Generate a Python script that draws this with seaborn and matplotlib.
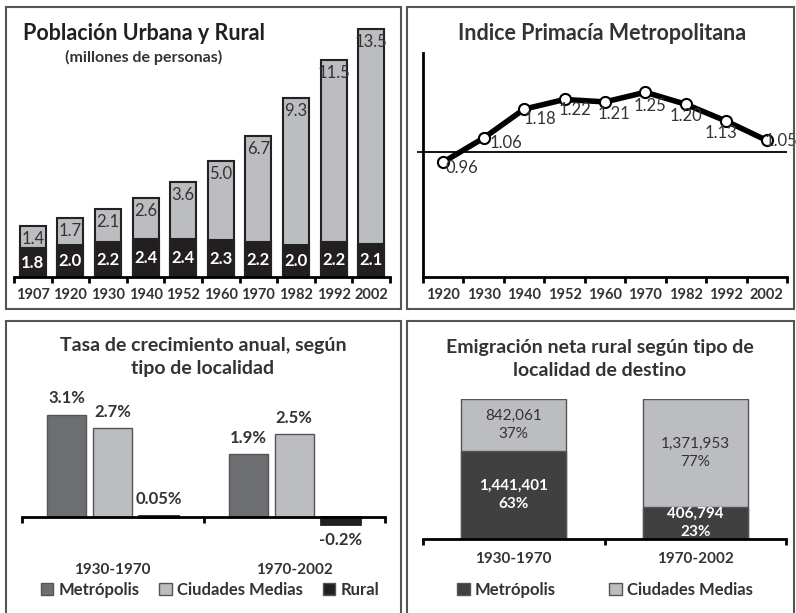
import numpy as np
import pandas as pd
import matplotlib
matplotlib.use("Agg")
import matplotlib.pyplot as plt
from matplotlib.patches import Rectangle, Patch
import seaborn as sns

# data
anios_pob = ["1907", "1920", "1930", "1940", "1952", "1960", "1970", "1982", "1992", "2002"]
urbana = [1.4, 1.7, 2.1, 2.6, 3.6, 5.0, 6.7, 9.3, 11.5, 13.5]
rural = [1.8, 2.0, 2.2, 2.4, 2.4, 2.3, 2.2, 2.0, 2.2, 2.1]

anios_prim = ["1920", "1930", "1940", "1952", "1960", "1970", "1982", "1992", "2002"]
primacia = [0.96, 1.06, 1.18, 1.22, 1.21, 1.25, 1.20, 1.13, 1.05]

periodos = ["1930-1970", "1970-2002"]
tipos = ["Metrópolis", "Ciudades Medias", "Rural"]
tasa_metro = [3.1, 1.9]
tasa_ciudades = [2.7, 2.5]
tasa_rural = [0.05, -0.2]
tasa_labels = [["3.1%", "1.9%"], ["2.7%", "2.5%"], ["0.05%", "-0.2%"]]

emig_metro = [1441401, 406794]
emig_ciudades = [842061, 1371953]

# colours
LIGHT = "#bcbdc0"
BLACK = "#231f20"
MID = "#6d6e71"
DARK = "#404040"
TXT = "#333333"

sns.set_style("white")
plt.rcParams["font.family"] = ["Lato", "DejaVu Sans"]

W, H = 796, 613
fig = plt.figure(figsize=(W / 100, H / 100), dpi=100)


def box(x0, y0, x1, y1):
    return fig.add_axes([x0 / W, 1 - y1 / H, (x1 - x0) / W, (y1 - y0) / H])


def ftext(x, y, s, **kw):
    fig.text(x / W, 1 - y / H, s, **kw)


def frame(x0, y0, x1, y1):
    fig.add_artist(Rectangle((x0 / W, 1 - y1 / H), (x1 - x0) / W, (y1 - y0) / H,
                             transform=fig.transFigure, fill=False,
                             ec="#555555", lw=1.5))


def cat_axis(ax, n, labels=None, size=10.5):
    ax.set_xlim(-0.5, n - 0.5)
    ax.set_xticks(np.arange(n + 1) - 0.5)
    ax.set_xticklabels([])
    ax.tick_params(axis="x", which="major", direction="out", length=4,
                   width=2, color="black", bottom=True)
    if labels is not None:
        ax.set_xticks(np.arange(n), minor=True)
        ax.set_xticklabels(labels, minor=True, fontsize=size,
                           fontweight="bold", color=TXT)
        ax.tick_params(axis="x", which="minor", length=0, pad=8)


frame(6, 7, 401, 309)
frame(407, 7, 794, 309)
frame(6, 321, 401, 625)
frame(407, 321, 794, 625)

# ---- Poblacion urbana y rural
ax1 = box(14, 23, 390, 277)
total = [u + r for u, r in zip(urbana, rural)]
sns.barplot(x=anios_pob, y=total, color=LIGHT, edgecolor="#222222",
            linewidth=1.5, width=0.69, saturation=1, ax=ax1)
sns.barplot(x=anios_pob, y=rural, color=BLACK, edgecolor="#222222",
            linewidth=1.5, width=0.69, saturation=1, ax=ax1)
ax1.set_ylim(0, 16)
ax1.set_yticks([])
ax1.set_xlabel("")
ax1.set_ylabel("")
for s in ["top", "right", "left"]:
    ax1.spines[s].set_visible(False)
ax1.spines["bottom"].set_linewidth(2)
ax1.spines["bottom"].set_color("black")
cat_axis(ax1, len(anios_pob), anios_pob, size=10.5)
for i, (u, r) in enumerate(zip(urbana, rural)):
    ax1.annotate(f"{u:.1f}", (i, u + r), xytext=(0, -5), textcoords="offset pixels",
                 ha="center", va="top", fontsize=12, color=TXT)
    ax1.text(i, r / 2, f"{r:.1f}", ha="center", va="center", fontsize=12,
             fontweight="bold", color="white")
ftext(23, 33, "Población Urbana y Rural", fontsize=15.5, fontweight="bold",
      color=BLACK, va="center")
ftext(144, 57, "(millones de personas)", fontsize=11.5, fontweight="bold",
      color=TXT, va="center", ha="center")

# ---- Indice primacia
ax2 = box(423, 53, 787, 277)
xs = np.arange(len(anios_prim))
sns.lineplot(x=xs, y=primacia, color="black", lw=4, marker="o", markersize=8,
             markerfacecolor="white", markeredgecolor="black",
             markeredgewidth=1.5, ax=ax2, zorder=3)
ax2.axhline(1.0, color="black", lw=1.3, zorder=1)
ax2.set_ylim(0.483, 1.413)
ax2.set_yticks([1.0])
ax2.set_yticklabels([])
ax2.tick_params(axis="y", direction="out", length=4, width=1.5, left=True)
for s in ["top", "right"]:
    ax2.spines[s].set_visible(False)
for s in ["left", "bottom"]:
    ax2.spines[s].set_linewidth(2)
    ax2.spines[s].set_color("black")
cat_axis(ax2, len(anios_prim), anios_prim, size=10.5)
offsets = [(19, -6), (22, -5), (16, -10), (10, -11), (9, -12), (5, -14),
           (0, -12), (-5, -12), (14, -1)]
for i, (v, off) in enumerate(zip(primacia, offsets)):
    ax2.annotate(f"{v:.2f}", (i, v), xytext=off, textcoords="offset pixels",
                 ha="center", va="center", fontsize=12, color=TXT, zorder=4)
ftext(602, 33, "Indice Primacía Metropolitana", fontsize=15.5,
      fontweight="bold", color=TXT, ha="center", va="center")

# ---- Tasa de crecimiento
ax3 = box(22, 408, 385, 537)
df3 = pd.DataFrame({
    "periodo": periodos * 3,
    "tipo": [t for t in tipos for _ in periodos],
    "tasa": tasa_metro + tasa_ciudades + tasa_rural,
})
sns.barplot(data=df3, x="periodo", y="tasa", hue="tipo", hue_order=tipos,
            palette=[MID, LIGHT, BLACK], width=0.76, gap=0.15, saturation=1,
            edgecolor="#555555", linewidth=1, legend=False, ax=ax3)
for bar in ax3.containers[2]:
    bar.set_edgecolor(BLACK)
    bar.set_linewidth(2)
ax3.set_ylim(-0.6, 3.3)
ax3.set_yticks([])
ax3.set_xlabel("")
ax3.set_ylabel("")
for s in ["top", "right", "left"]:
    ax3.spines[s].set_visible(False)
ax3.spines["bottom"].set_position(("data", 0))
ax3.spines["bottom"].set_linewidth(2)
ax3.spines["bottom"].set_color("black")
cat_axis(ax3, len(periodos))
for cont, labs in zip(ax3.containers, tasa_labels):
    ax3.bar_label(cont, labels=labs, padding=6, fontsize=12,
                  fontweight="bold", color=TXT)
for i, p in enumerate(periodos):
    ax3.text(i, -1.6, p, ha="center", va="center", fontsize=11,
             fontweight="bold", color=TXT, clip_on=False)
ftext(203, 357, "Tasa de crecimiento anual, según\ntipo de localidad",
      fontsize=14, fontweight="bold", color=TXT, ha="center", va="center",
      linespacing=1.4)
h3 = [Patch(facecolor=c, edgecolor="#555555") for c in [MID, LIGHT, BLACK]]
fig.legend(h3, tipos, loc="center", bbox_to_anchor=(210 / W, 1 - 590 / H),
           ncol=3, frameon=False, handlelength=0.75, handleheight=0.75,
           handletextpad=0.3, columnspacing=1.2,
           prop={"size": 12, "weight": "bold"}, labelcolor=TXT)

# ---- Emigracion neta rural
ax4 = box(423, 399, 786, 539)
tot4 = [m + c for m, c in zip(emig_metro, emig_ciudades)]
share_m = [m / t for m, t in zip(emig_metro, tot4)]
share_c = [c / t for c, t in zip(emig_ciudades, tot4)]
sns.barplot(x=periodos, y=[1.0] * len(periodos), color=LIGHT, width=0.58,
            edgecolor="#555555", linewidth=1, saturation=1, ax=ax4)
sns.barplot(x=periodos, y=share_m, color=DARK, width=0.58,
            edgecolor="#555555", linewidth=1, saturation=1, ax=ax4)
ax4.set_ylim(0, 1)
ax4.set_yticks([])
ax4.set_xlabel("")
ax4.set_ylabel("")
for s in ["top", "right", "left"]:
    ax4.spines[s].set_visible(False)
ax4.spines["bottom"].set_linewidth(2)
ax4.spines["bottom"].set_color("black")
cat_axis(ax4, len(periodos))
for i in range(len(periodos)):
    ax4.text(i, share_m[i] / 2, f"{emig_metro[i]:,}\n{share_m[i]:.0%}",
             ha="center", va="center", fontsize=11, fontweight="bold",
             color="white", linespacing=1.35)
    ax4.text(i, share_m[i] + share_c[i] / 2, f"{emig_ciudades[i]:,}\n{share_c[i]:.0%}",
             ha="center", va="center", fontsize=11, color=TXT,
             linespacing=1.35)
    ax4.text(i, -0.14, periodos[i], ha="center", va="center", fontsize=11,
             fontweight="bold", color=TXT, clip_on=False)
ftext(600, 359, "Emigración neta rural según tipo de\nlocalidad de destino",
      fontsize=14, fontweight="bold", color=TXT, ha="center", va="center",
      linespacing=1.4)
h4 = [Patch(facecolor=c, edgecolor="#555555") for c in [DARK, LIGHT]]
fig.legend(h4, tipos[:2], loc="center", bbox_to_anchor=(605 / W, 1 - 590 / H),
           ncol=2, frameon=False, handlelength=0.75, handleheight=0.75,
           handletextpad=0.3, columnspacing=3.2,
           prop={"size": 12, "weight": "bold"}, labelcolor=TXT)

fig.savefig("out.png", dpi=100)
